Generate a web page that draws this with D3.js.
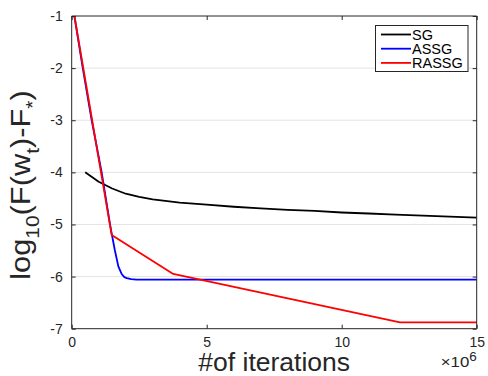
<!DOCTYPE html>
<html><head><meta charset="utf-8">
<script src="https://cdn.jsdelivr.net/npm/d3@7"></script>
<style>body{margin:0;background:#fff}svg{display:block;font-family:"Liberation Sans",Arial,sans-serif}</style>
</head><body><svg id="c" width="488" height="376"></svg>
<script>
// x in units of 1e6 iterations, y = log10(F(w_t)-F_*)
const sgX = [0.5,1,1.5,2,2.5,3,4,5,6,7,8,9,10,11,12,13,14,15];
const sgY = [-4.0,-4.18,-4.31,-4.41,-4.47,-4.52,-4.58,-4.62,-4.66,-4.69,-4.72,-4.74,-4.77,-4.79,-4.81,-4.83,-4.85,-4.87];
const assgX = [0.1,0.41,0.74,1.11,1.42,1.48,1.6,1.73,1.85,1.95,2.04,2.2,2.4,15];
const assgY = [-1,-2,-3,-4,-5,-5.17,-5.5,-5.81,-5.95,-6.01,-6.03,-6.05,-6.06,-6.06];
const rassgX = [0.1,1.48,3.76,12.16,15];
const rassgY = [-1,-5.2,-5.95,-6.88,-6.88];
const seriesNames = ["SG","ASSG","RASSG"];
const seriesColors = ["#000000","#0000ff","#ff0000"];
const xTicks = [0,5,10,15];
const yTicks = [-7,-6,-5,-4,-3,-2,-1];

const svg = d3.select("#c");
const L=71.7, R=476.7, T=16, B=328.7;
const x = d3.scaleLinear().domain([0,15]).range([L,R]);
const y = d3.scaleLinear().domain([-7,-1]).range([B,T]);
const ax="#262626";

// grid
svg.append("g").selectAll("line").data(yTicks.slice(1,-1)).join("line")
  .attr("x1",L).attr("x2",R).attr("y1",d=>y(d)).attr("y2",d=>y(d))
  .attr("stroke","#e3e3e3").attr("stroke-width",1);

const series = [[sgX,sgY],[assgX,assgY],[rassgX,rassgY]];
const line = d3.line().x(d=>x(d[0])).y(d=>y(d[1]));
series.forEach((s,i)=>{
  const pts = s[0].map((v,j)=>[v,s[1][j]]);
  svg.append("path").datum(pts).attr("d",line).attr("fill","none")
    .attr("stroke",seriesColors[i]).attr("stroke-width",1.8).attr("stroke-linejoin","round");
});

// axes
const fs = 14;
const gx = svg.append("g").attr("transform",`translate(0,${B})`)
  .call(d3.axisBottom(x).tickValues(xTicks).tickSize(-4).tickPadding(8).tickFormat(d3.format("d")));
const gy = svg.append("g").attr("transform",`translate(${L},0)`)
  .call(d3.axisLeft(y).tickValues(yTicks).tickSize(-4).tickPadding(9).tickFormat(d=>"-"+Math.abs(d)));
const gt = svg.append("g").attr("transform",`translate(0,${T})`)
  .call(d3.axisTop(x).tickValues(xTicks).tickSize(-4).tickFormat(""));
const gr = svg.append("g").attr("transform",`translate(${R},0)`)
  .call(d3.axisRight(y).tickValues(yTicks).tickSize(-4).tickFormat(""));
[gx,gy,gt,gr].forEach(g=>{
  g.selectAll("path").attr("stroke",ax).attr("stroke-width",1);
  g.selectAll("line").attr("stroke",ax);
  g.selectAll("text").attr("fill",ax).style("font-size",fs+"px").style("font-family","Liberation Sans, Arial, sans-serif");
});
gx.selectAll(".domain").attr("d",`M${L},0H${R}`);
gt.selectAll(".domain").attr("d",`M${L},0H${R}`);
gy.selectAll(".domain").attr("d",`M0,${B}V${T}`);
gr.selectAll(".domain").attr("d",`M0,${B}V${T}`);

// x label
svg.append("text").attr("x",(L+R)/2).attr("y",371).attr("text-anchor","middle")
  .attr("fill",ax).style("font-size","26.5px").text("#of iterations");
// exponent
const ex = svg.append("text").attr("transform",`translate(${R},367) scale(1.12,1)`).attr("text-anchor","end").attr("fill",ax).style("font-size","15px");
ex.append("tspan").text("×10");
ex.append("tspan").attr("dy",-6.5).style("font-size","12px").text("6");

// y label
const yl = svg.append("text").attr("transform",`translate(30,185) rotate(-90) scale(1.1,1)`)
  .attr("text-anchor","middle").attr("fill",ax).style("font-size","28px");
const sub = 19, dd = 9;
yl.append("tspan").text("log");
yl.append("tspan").attr("dy",dd).style("font-size",sub+"px").text("10");
yl.append("tspan").attr("dy",-dd).text("(F(w");
yl.append("tspan").attr("dy",dd).style("font-size",sub+"px").text("t");
yl.append("tspan").attr("dy",-dd).text(")-F");
yl.append("tspan").attr("dy",dd).style("font-size",sub+"px").text("*");
yl.append("tspan").attr("dy",-dd).text(")");

// legend
const lg = svg.append("g");
lg.append("rect").attr("x",375.5).attr("y",25.5).attr("width",92.5).attr("height",46)
  .attr("fill","#fff").attr("stroke",ax).attr("stroke-width",1);
seriesNames.forEach((n,i)=>{
  const yy = 34.5 + i*14.2;
  lg.append("line").attr("x1",381).attr("x2",411).attr("y1",yy).attr("y2",yy)
    .attr("stroke",seriesColors[i]).attr("stroke-width",1.8);
  lg.append("text").attr("x",412).attr("y",yy+5.2).attr("fill","#000").style("font-size","14.5px").text(n);
});
</script></body></html>
